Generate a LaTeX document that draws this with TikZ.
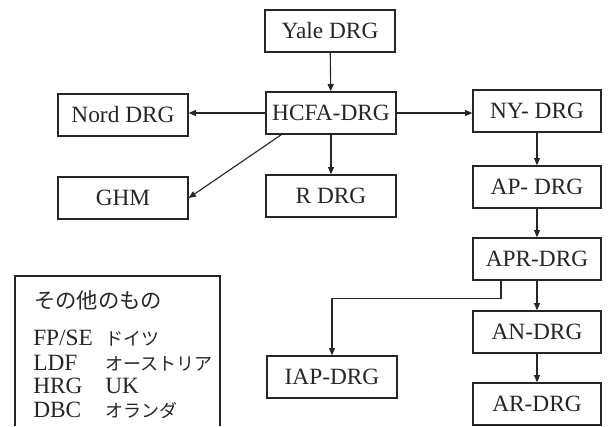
\documentclass[tikz,border=0pt]{standalone}
\usepackage{fontspec}
\setmainfont{Liberation Serif}
\newfontfamily\jpfont{Noto Sans CJK JP}
\usetikzlibrary{arrows.meta}
\definecolor{ink}{HTML}{262626}
\begin{document}
\begin{tikzpicture}[x=0.75pt,y=-0.75pt,
  box/.style={draw=ink, line width=1pt, inner sep=0pt,
    minimum width=97.5pt, minimum height=31.5pt,
    font=\fontsize{17.5}{20}\selectfont, text=ink},
  rbox/.style={box, minimum width=96pt},
  link/.style={draw=ink, line width=0.85pt,
    -{Triangle[length=5.5pt,width=4.5pt]}},
  lat/.style={anchor=base west, inner sep=0pt, text=ink,
    font=\fontsize{17.5}{20}\selectfont},
  jp/.style={anchor=base west, inner sep=0pt, text=ink,
    font=\jpfont\fontsize{13.5}{16}\selectfont}]
\useasboundingbox (0,0) rectangle (610,426);

% main classification boxes
\node[box] (yale) at (330,31) {Yale DRG};
\node[box] (hcfa) at (331,113) {HCFA-DRG};
\node[box] (nord) at (123,115) {Nord DRG};
\node[box] (ghm)  at (123,198) {GHM};
\node[box] (rdrg) at (331,196) {R DRG};
\node[rbox] (ny)  at (537,111) {NY- DRG};
\node[rbox] (ap)  at (537,187) {AP- DRG};
\node[rbox] (apr) at (537,259) {APR-DRG};
\node[rbox] (an)  at (537,332) {AN-DRG};
\node[rbox] (ar)  at (537,404) {AR-DRG};
\node[box] (iap)  at (332,377) {IAP-DRG};

% derivation arrows
\draw[link] (yale) -- (hcfa);
\draw[link] (hcfa.west) -- (hcfa.west -| nord.east);
\draw[link] (hcfa.east) -- (hcfa.east -| ny.west);
\draw[link] (hcfa) -- (rdrg);
\draw[link] ([xshift=12pt]hcfa.south west) -- (ghm.east);
\draw[link] (ny) -- (ap);
\draw[link] (ap) -- (apr);
\draw[link] (apr) -- (an);
\draw[link] (an) -- (ar);
\draw[link] ([xshift=-27pt]apr.south) -- ++(0,18) -| (iap.north);

% legend of other national systems
\draw[ink, line width=1pt] (15,426) -- (15,276) -- (220,276) -- (220,426);
\node[anchor=west, inner sep=0pt, text=ink,
  font=\jpfont\fontsize{16}{19}\selectfont] (other) at (34,300) {その他のもの};
\node[lat] (fp)  at (33,345) {FP/SE};
\node[jp]  (de)  at (105,345) {ドイツ};
\node[lat] (ldf) at (33,370) {LDF};
\node[jp]  (at)  at (105,370) {オーストリア};
\node[lat] (hrg) at (33,393) {HRG};
\node[lat] (uk)  at (105,393) {UK};
\node[lat] (dbc) at (33,417) {DBC};
\node[jp]  (nl)  at (105,417) {オランダ};
\end{tikzpicture}
\end{document}
